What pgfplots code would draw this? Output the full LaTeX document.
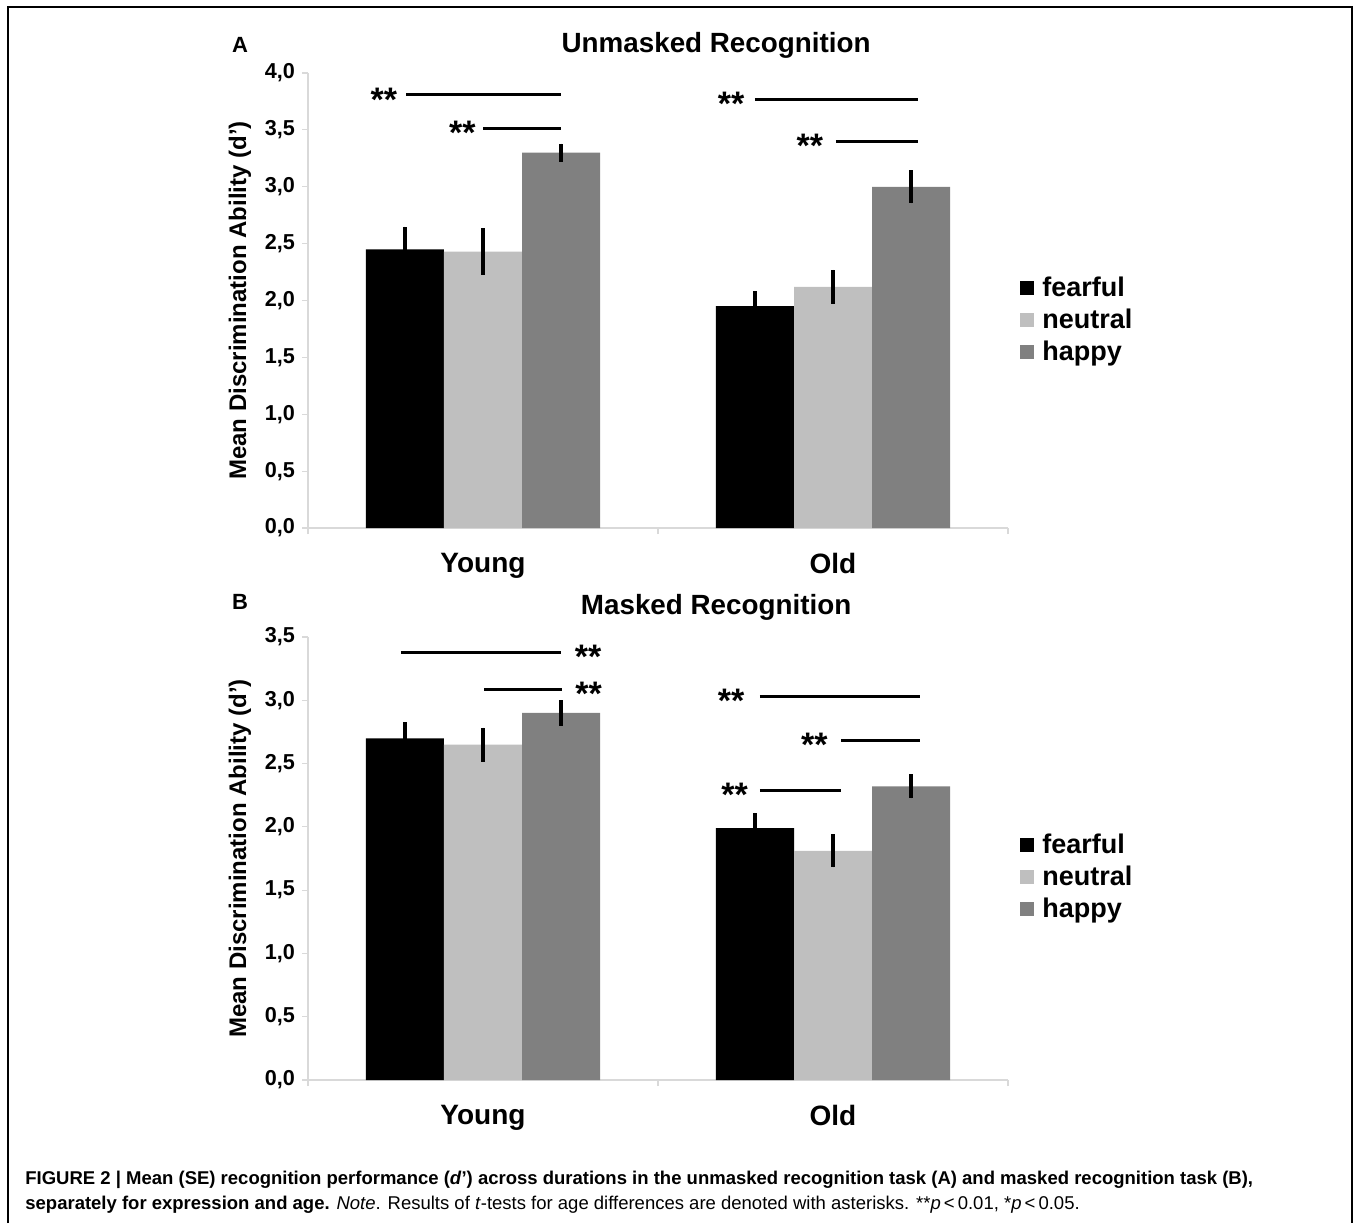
\documentclass[border=0pt]{standalone}
\usepackage{fontspec}
\setmainfont{Liberation Sans}
\usepackage{pgfplots}
\pgfplotsset{compat=1.18}

\definecolor{cfea}{HTML}{000000}
\definecolor{cneu}{HTML}{BFBFBF}
\definecolor{chap}{HTML}{808080}
\definecolor{caxis}{HTML}{D9D9D9}

\newcommand{\astfont}{\fontsize{17}{18}\selectfont\bfseries}

\pgfplotsset{
  mybars/.style={
    scale only axis, width=350pt,
    xmin=-0.5, xmax=1.5, ymin=0,
    axis x line*=bottom, axis y line*=left,
    axis line style={draw=caxis, line width=0.6pt, -},
    tick style={draw=caxis, line width=0.6pt},
    tick align=outside,
    major tick length=3pt,
    ytick distance=0.5,
    yticklabel style={font=\fontsize{10.8}{12}\selectfont\bfseries,
      /pgf/number format/.cd, fixed, fixed zerofill, precision=1, use comma, assume math mode=true},
    xtick={-0.5,0.5,1.5}, xticklabels={},
    extra x ticks={0,1}, extra x tick labels={Young,Old},
    extra x tick style={major tick length=0pt,
      xticklabel style={font=\fontsize{14}{16}\selectfont\bfseries, yshift=-9pt}},
    ybar, bar width=0.2229,
    ylabel={Mean Discrimination Ability (d’)},
    ylabel style={at={(axis description cs:-0.0971,0.5)}, anchor=center,
      font=\fontsize{12}{14}\selectfont\bfseries},
    title style={at={(axis description cs:0.583,1)}, anchor=base,
      font=\fontsize{13.9}{16}\selectfont\bfseries},
    legend image code/.code={\fill[##1] (0pt,-3.5pt) rectangle (7pt,3.5pt);},
    legend cell align=left,
    legend style={draw=none, fill=none, anchor=west, inner sep=0pt,
      font=\fontsize{13.5}{16}\selectfont\bfseries,
      nodes={inner sep=0pt, inner xsep=4pt}, row sep=4.75pt},
  },
  barplot/.style={draw=none, fill=#1, bar shift=0pt,
    error bars/.cd, y dir=both, y explicit, error mark=none,
    error bar style={black, line width=1.7pt}},
  sigline/.style={forget plot, sharp plot, black, line width=1.5pt, mark=none},
}

\begin{document}
\begin{tikzpicture}[x=0.5pt,y=-0.5pt]
\path[use as bounding box] (0,0) rectangle (1354,1223);
\draw[line width=1pt] (8,1223) -- (8,7) -- (1352,7) -- (1352,1223);

\node[anchor=base, font=\fontsize{11}{12}\selectfont\bfseries] at (240,52) {A};
\node[anchor=base, font=\fontsize{11}{12}\selectfont\bfseries] at (240,609) {B};

% Panel A
\begin{axis}[mybars, at={(154pt,-264pt)}, anchor=south west, height=227.5pt, ymax=4,
  title={Unmasked Recognition}, title style={yshift=4.5pt},
  legend style={at={(rel axis cs:1.017,0.457)}}]
\addplot[barplot=cfea] coordinates {(-0.2229,2.45) +- (0,0.20) (0.7771,1.95) +- (0,0.13)};
\addplot[barplot=cneu] coordinates {(0,2.43) +- (0,0.205) (1,2.12) +- (0,0.15)};
\addplot[barplot=chap] coordinates {(0.2229,3.30) +- (0,0.08) (1.2229,3.00) +- (0,0.145)};
\legend{fearful,neutral,happy}
\addplot[sigline] coordinates {(-0.22,3.807) (0.224,3.807)};
\addplot[sigline] coordinates {(0.001,3.514) (0.224,3.514)};
\addplot[sigline] coordinates {(0.777,3.77) (1.243,3.77)};
\addplot[sigline] coordinates {(1.008,3.40) (1.243,3.40)};
\node[font=\astfont, yshift=-0.22em] at (axis cs:-0.283,3.807) {**};
\node[font=\astfont, yshift=-0.22em] at (axis cs:-0.059,3.514) {**};
\node[font=\astfont, yshift=-0.22em] at (axis cs:0.709,3.77) {**};
\node[font=\astfont, yshift=-0.22em] at (axis cs:0.934,3.40) {**};
\end{axis}

% Panel B
\begin{axis}[mybars, at={(154pt,-540pt)}, anchor=south west, height=221.5pt, ymax=3.5,
  title={Masked Recognition}, title style={yshift=5.5pt},
  legend style={at={(rel axis cs:1.017,0.458)}}]
\addplot[barplot=cfea] coordinates {(-0.2229,2.70) +- (0,0.125) (0.7771,1.99) +- (0,0.12)};
\addplot[barplot=cneu] coordinates {(0,2.65) +- (0,0.135) (1,1.81) +- (0,0.13)};
\addplot[barplot=chap] coordinates {(0.2229,2.90) +- (0,0.10) (1.2229,2.32) +- (0,0.095)};
\legend{fearful,neutral,happy}
\addplot[sigline] coordinates {(-0.235,3.378) (0.222,3.378)};
\addplot[sigline] coordinates {(0.003,3.086) (0.225,3.086)};
\addplot[sigline] coordinates {(0.791,3.033) (1.249,3.033)};
\addplot[sigline] coordinates {(1.023,2.686) (1.249,2.686)};
\addplot[sigline] coordinates {(0.791,2.29) (1.023,2.29)};
\node[font=\astfont, yshift=-0.22em] at (axis cs:0.30,3.378) {**};
\node[font=\astfont, yshift=-0.22em] at (axis cs:0.302,3.086) {**};
\node[font=\astfont, yshift=-0.22em] at (axis cs:0.709,3.033) {**};
\node[font=\astfont, yshift=-0.22em] at (axis cs:0.947,2.686) {**};
\node[font=\astfont, yshift=-0.22em] at (axis cs:0.719,2.29) {**};
\end{axis}

% Caption
\node[anchor=base west, inner sep=0pt, font=\fontsize{9.25}{11}\selectfont] at (25,1184)
  {\textbf{FIGURE 2 | Mean (SE) recognition performance (\textit{d}’) across durations in the unmasked recognition task (A) and masked recognition task (B),}};
\node[anchor=base west, inner sep=0pt, font=\fontsize{9.25}{11}\selectfont] at (25,1209)
  {\textbf{separately for expression and age.} \textit{Note}. Results of \textit{t}-tests for age differences are denoted with asterisks. **\textit{p}\,<\,0.01, *\textit{p}\,<\,0.05.};
\end{tikzpicture}
\end{document}
